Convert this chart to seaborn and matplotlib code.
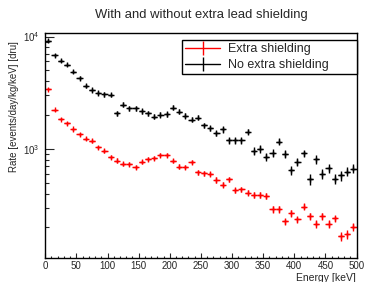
import matplotlib
matplotlib.use("Agg")
import matplotlib.pyplot as plt
from matplotlib.lines import Line2D
from matplotlib.ticker import LogLocator, NullFormatter, MultipleLocator
import numpy as np
import pandas as pd
import seaborn as sns

# ---- data ----
energy = [5, 15, 25, 35, 45, 55, 65, 75, 85, 95,
          105, 115, 125, 135, 145, 155, 165, 175, 185, 195,
          205, 215, 225, 235, 245, 255, 265, 275, 285, 295,
          305, 315, 325, 335, 345, 355, 365, 375, 385, 395,
          405, 415, 425, 435, 445, 455, 465, 475, 485, 495]
bin_half = 5

rate_no_shield = [9200, 6800, 6100, 5600, 4880, 4260, 3640, 3350, 3150, 3050,
                  3030, 2080, 2480, 2300, 2300, 2170, 2080, 1940, 2010, 2040,
                  2320, 2150, 1970, 1820, 1900, 1620, 1530, 1380, 1490, 1195,
                  1195, 1195, 1420, 955, 1000, 854, 915, 1155, 900, 645,
                  765, 910, 537, 805, 598, 673, 540, 580, 628, 668]
err_no_shield = [230, 198, 187, 180, 168, 157, 145, 139, 135, 133,
                 132, 109, 120, 115, 115, 112, 109, 106, 108, 108,
                 116, 111, 107, 102, 105, 97, 94, 89, 93, 83,
                 83, 83, 90, 74, 76, 70, 73, 82, 72, 61,
                 66, 72, 56, 68, 59, 62, 56, 58, 60, 62]

rate_shield = [3400, 2230, 1840, 1690, 1500, 1350, 1230, 1180, 1030, 960,
               844, 787, 735, 730, 687, 771, 809, 826, 879, 879,
               782, 695, 687, 761, 620, 605, 597, 528, 478, 535,
               429, 436, 406, 389, 389, 381, 291, 291, 226, 268,
               235, 306, 252, 216, 252, 214, 240, 167, 174, 202]
err_shield = [70, 57, 51, 49, 46, 44, 42, 41, 39, 37,
              35, 34, 33, 32, 31, 33, 34, 34, 36, 36,
              34, 32, 31, 33, 30, 30, 29, 28, 26, 28,
              25, 25, 24, 24, 24, 23, 20, 20, 18, 20,
              18, 21, 19, 18, 19, 18, 19, 16, 16, 17]

labels = ["Extra shielding", "No extra shielding"]
colors = ["#ff0000", "#000000"]

title = "With and without extra lead shielding"
xlabel = "Energy [keV]"
ylabel = "Rate [events/day/kg/keV] [dru]"

# ---- figure ----
sns.set_style("ticks")
plt.rcParams["font.family"] = ["Liberation Sans", "DejaVu Sans"]

fig = plt.figure(figsize=(3.65, 2.82), dpi=100)
ax = fig.add_axes([0.124, 0.084, 0.853, 0.798])

df = pd.concat([
    pd.DataFrame({"energy": energy, "rate": rate_shield, "err": err_shield, "series": labels[0]}),
    pd.DataFrame({"energy": energy, "rate": rate_no_shield, "err": err_no_shield, "series": labels[1]}),
])

for lab, col in zip(labels, colors):
    d = df[df["series"] == lab]
    ax.errorbar(d["energy"], d["rate"], yerr=d["err"], xerr=bin_half,
                fmt="none", ecolor=col, elinewidth=1.0, capsize=0)
sns.scatterplot(data=df, x="energy", y="rate", hue="series", palette=colors,
                hue_order=labels, marker="+", s=14, linewidth=1.0, legend=False, ax=ax)

ax.set_yscale("log")
ax.set_xlim(0, 500)
ax.set_ylim(106, 10700)

ax.xaxis.set_major_locator(MultipleLocator(50))
ax.xaxis.set_minor_locator(MultipleLocator(10))
ax.yaxis.set_major_locator(LogLocator(base=10))
ax.yaxis.set_minor_locator(LogLocator(base=10, subs=np.arange(2, 10)))
ax.yaxis.set_minor_formatter(NullFormatter())

ax.tick_params(axis="x", which="major", direction="in", length=3.5, width=0.8, labelsize=7, pad=2)
ax.tick_params(axis="x", which="minor", direction="in", length=1.8, width=0.8)
ax.tick_params(axis="y", which="major", direction="in", length=6.5, width=0.8, labelsize=7, pad=4)
ax.tick_params(axis="y", which="minor", direction="in", length=3.2, width=0.8)

for sp in ax.spines.values():
    sp.set_color("black")
    sp.set_linewidth(1.0)

ax.set_title(title, fontsize=9.4, pad=11)
ax.set_xlabel(xlabel, fontsize=7.5, loc="right")
ax.xaxis.set_label_coords(0.997, -0.066)
ax.set_ylabel(ylabel, fontsize=7, loc="top")
ax.yaxis.set_label_coords(-0.084, 0.963)

handles = [Line2D([], [], color=c, marker="|", markersize=10, markeredgewidth=1.0, linewidth=1.0)
           for c in colors]
leg = ax.legend(handles, labels, loc="lower left", bbox_to_anchor=(0.439, 0.819, 0.561, 0.181),
                mode="expand", borderaxespad=0, fancybox=False, framealpha=1,
                edgecolor="black", fontsize=9, handlelength=2.8, handletextpad=0.6,
                labelspacing=0.3, borderpad=0.25)
leg.get_frame().set_linewidth(1.0)

fig.savefig("out.png", dpi=100)
